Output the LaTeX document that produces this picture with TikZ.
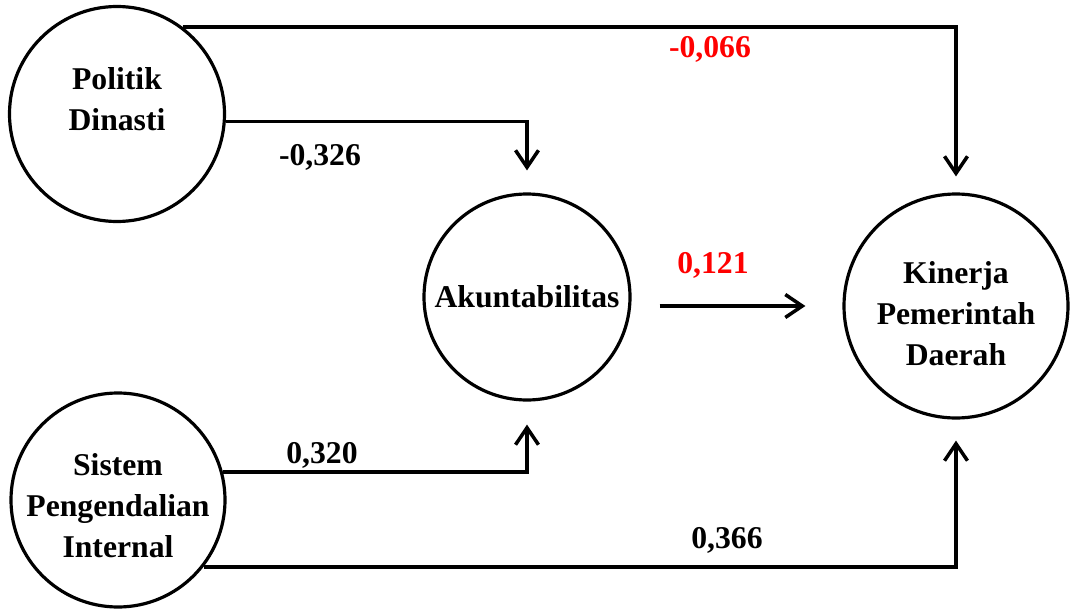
\documentclass[tikz,border=0pt]{standalone}
\usepackage{fontspec}
\setmainfont{Liberation Serif}
\usetikzlibrary{arrows.meta}
\begin{document}
\begin{tikzpicture}[x=1pt,y=-1pt,
  every node/.style={font=\fontsize{31.7}{41}\selectfont\bfseries},
  var/.style={circle,draw,line width=3.2pt,inner sep=0pt,minimum size=#1},
  ctext/.style={align=center},
  conn/.style={line width=3.5pt,-{Straight Barb[length=17pt,width=23pt]}},
  coef/.style={anchor=base,inner sep=0pt},
  neg/.style={coef,text=red}]
\useasboundingbox (0,0) rectangle (1071,610);

% latent variables
\node[var=215pt] (pd) at (117,114) {};
\node[var=214pt] (si) at (118,500) {};
\node[var=206pt] (ak) at (527,297) {};
\node[var=224pt] (kp) at (956,306) {};

% variable names
\node[ctext,yshift=15pt] (pdt) at (pd.center) {Politik\\Dinasti};
\node[ctext,yshift=-6pt] (sit) at (si.center) {Sistem\\Pengendalian\\Internal};
\node[ctext] (akt) at (ak.center) {Akuntabilitas};
\node[ctext,yshift=-8pt] (kpt) at (kp.center) {Kinerja\\Pemerintah\\Daerah};

% paths
\draw[conn,shorten >=16pt] (pd.53) -| (kp.north);
\draw[conn,shorten >=22pt] (pd.-4) -| (ak.north);
\draw[conn,shorten >=23pt] (si.15) -| (ak.south);
\draw[conn,shorten >=21pt] (si.-38) -| (kp.south);
\draw[conn,shorten <=28pt,shorten >=37pt] (ak.east |- kp.west) -- (kp.west);

% path coefficients
\node[neg] (c1) at (710,58) {-0,066};
\node[coef] (c2) at (320,165) {-0,326};
\node[neg] (c3) at (713,273) {0,121};
\node[coef] (c4) at (322,463) {0,320};
\node[coef] (c5) at (727,548) {0,366};
\end{tikzpicture}
\end{document}
